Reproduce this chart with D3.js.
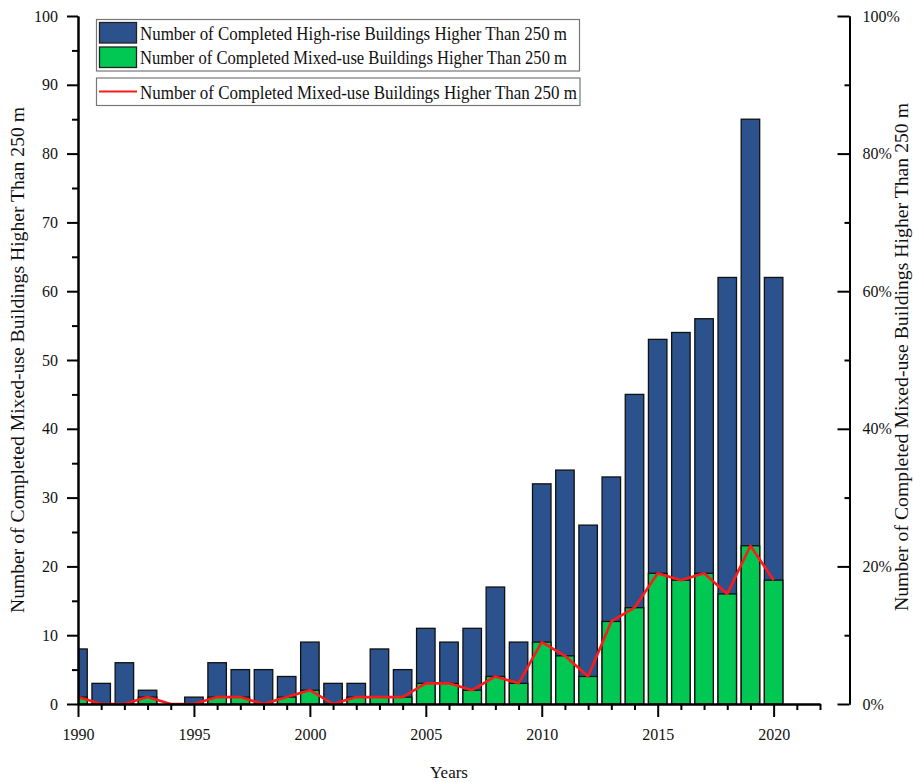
<!DOCTYPE html>
<html>
<head>
<meta charset="utf-8">
<script src="https://cdn.jsdelivr.net/npm/d3@7"></script>
<style>
  html, body { margin: 0; padding: 0; background: #ffffff; }
  svg text { font-family: "Liberation Serif", "Times New Roman", "DejaVu Serif", serif; }
</style>
</head>
<body>
<svg id="chart" width="913" height="783"></svg>
<script>
// ---- data ----
const years = [1990,1991,1992,1993,1994,1995,1996,1997,1998,1999,2000,2001,2002,2003,2004,2005,2006,2007,2008,2009,2010,2011,2012,2013,2014,2015,2016,2017,2018,2019,2020];
const highRise = [8,3,6,2,0,1,6,5,5,4,9,3,3,8,5,11,9,11,17,9,32,34,26,33,45,53,54,56,62,85,62];
const mixedUse = [1,0,0,1,0,0,1,1,0,1,2,0,1,1,1,3,3,2,4,3,9,7,4,12,14,19,18,19,16,23,18];
const leftTicks = [0,10,20,30,40,50,60,70,80,90,100];
const rightTicks = [0,20,40,60,80,100];
const xTickLabels = [1990,1995,2000,2005,2010,2015,2020];
const seriesNames = [
  "Number of Completed High-rise Buildings Higher Than 250 m",
  "Number of Completed Mixed-use Buildings Higher Than 250 m",
  "Number of Completed Mixed-use Buildings Higher Than 250 m"
];
const yTitle = "Number of Completed Mixed-use Buildings Higher Than 250 m";
const xTitle = "Years";

(function () {
const FONT = '"Liberation Serif", "Times New Roman", "DejaVu Serif", serif';
// ---- layout ----
const svg = d3.select("#chart");
const pLeft = 78, pRight = 820, pTop = 16, pBottom = 704, rightAxisX = 849.5;
const blue = "#2b528c", green = "#00c853", red = "#ff1a1a";
const textColor = "#111";

const x = d3.scaleLinear().domain([1990, 2022]).range([pLeft, pRight]);
const y = d3.scaleLinear().domain([0, 100]).range([pBottom, pTop]);
const yR = d3.scaleLinear().domain([0, 100]).range([pBottom, pTop]);
const barW = 18.5;

svg.append("defs").append("clipPath").attr("id", "plotClip")
  .append("rect").attr("x", pLeft).attr("y", 0).attr("width", pRight - pLeft).attr("height", pBottom + 1);

const data = years.map((yr, i) => ({ yr, total: highRise[i], mixed: mixedUse[i] }));

const bars = svg.append("g").attr("clip-path", "url(#plotClip)");
bars.selectAll("rect.hr").data(data.filter(d => d.total > 0)).join("rect")
  .attr("class", "hr")
  .attr("x", d => x(d.yr) - barW / 2)
  .attr("width", barW)
  .attr("y", d => y(d.total))
  .attr("height", d => y(0) - y(d.total))
  .attr("fill", blue).attr("stroke", "#111").attr("stroke-width", 1.3);
bars.selectAll("rect.mu").data(data.filter(d => d.mixed > 0)).join("rect")
  .attr("class", "mu")
  .attr("x", d => x(d.yr) - barW / 2)
  .attr("width", barW)
  .attr("y", d => y(d.mixed))
  .attr("height", d => y(0) - y(d.mixed))
  .attr("fill", green).attr("stroke", "#111").attr("stroke-width", 1.3);

// red line
svg.append("path").datum(data)
  .attr("fill", "none").attr("stroke", red).attr("stroke-width", 2.6)
  .attr("stroke-linejoin", "round")
  .attr("d", d3.line().x(d => x(d.yr)).y(d => y(d.mixed)));

// ---- axes ----
function styleAxis(g) {
  g.attr("font-family", FONT).attr("font-size", 16);
  g.select(".domain").attr("stroke", "#000").attr("stroke-width", 2);
  g.selectAll(".tick line").attr("stroke", "#000").attr("stroke-width", 2);
  g.selectAll(".tick text").attr("fill", textColor).attr("font-family", FONT).attr("font-size", 16);
}

// left axis
const gl = svg.append("g").attr("transform", `translate(${pLeft},0)`)
  .call(d3.axisLeft(y).tickValues(leftTicks).tickSize(11).tickPadding(9).tickSizeOuter(0));
styleAxis(gl);
const glm = svg.append("g").attr("transform", `translate(${pLeft},0)`)
  .call(d3.axisLeft(y).tickValues(d3.range(5, 100, 10)).tickSize(6).tickFormat("").tickSizeOuter(0));
styleAxis(glm);

// bottom axis
const gb = svg.append("g").attr("transform", `translate(0,${pBottom})`)
  .call(d3.axisBottom(x).tickValues(xTickLabels).tickFormat(d3.format("d")).tickSize(13).tickPadding(12).tickSizeOuter(0));
styleAxis(gb);
const gbm = svg.append("g").attr("transform", `translate(0,${pBottom})`)
  .call(d3.axisBottom(x).tickValues(d3.range(1991, 2023).filter(v => v % 5 !== 0)).tickSize(6).tickFormat("").tickSizeOuter(0));
styleAxis(gbm);

// right axis
const gr = svg.append("g").attr("transform", `translate(${rightAxisX},0)`)
  .call(d3.axisRight(yR).tickValues(rightTicks).tickSize(-12).tickPadding(13).tickFormat(d => d + "%").tickSizeOuter(0));
styleAxis(gr);
const grm = svg.append("g").attr("transform", `translate(${rightAxisX},0)`)
  .call(d3.axisRight(yR).tickValues(d3.range(10, 100, 20)).tickSize(-5).tickFormat("").tickSizeOuter(0));
styleAxis(grm);

// ---- titles ----
svg.append("text")
  .attr("transform", `translate(24,${(pTop + pBottom) / 2}) rotate(-90)`)
  .attr("text-anchor", "middle").attr("fill", textColor)
  .attr("font-family", FONT).attr("font-size", 19)
  .attr("textLength", 506).attr("lengthAdjust", "spacingAndGlyphs")
  .text(yTitle);
svg.append("text")
  .attr("transform", `translate(908,${(pTop + pBottom) / 2 - 3}) rotate(-90)`)
  .attr("text-anchor", "middle").attr("fill", textColor)
  .attr("font-family", FONT).attr("font-size", 19)
  .attr("textLength", 508).attr("lengthAdjust", "spacingAndGlyphs")
  .text(yTitle);
svg.append("text")
  .attr("x", 449).attr("y", 778)
  .attr("text-anchor", "middle").attr("fill", textColor)
  .attr("font-family", FONT).attr("font-size", 17)
  .text(xTitle);

// ---- legend ----
const lg = svg.append("g").attr("font-family", FONT);
lg.append("rect").attr("x", 96.5).attr("y", 19.5).attr("width", 483).attr("height", 51.5)
  .attr("fill", "#fff").attr("stroke", "#777").attr("stroke-width", 1.2);
lg.append("rect").attr("x", 96.5).attr("y", 78).attr("width", 483.5).attr("height", 27.5)
  .attr("fill", "#fff").attr("stroke", "#777").attr("stroke-width", 1.2);
const swatches = [blue, green];
swatches.forEach((c, i) => {
  lg.append("rect").attr("x", 99.5).attr("y", 22.5 + i * 24.5).attr("width", 37).attr("height", 20.5)
    .attr("fill", c).attr("stroke", "#222").attr("stroke-width", 1.3);
  lg.append("text").attr("x", 140).attr("y", 39.5 + i * 24.5)
    .attr("fill", textColor).attr("font-family", FONT).attr("font-size", 19)
    .attr("textLength", 427).attr("lengthAdjust", "spacingAndGlyphs")
    .text(seriesNames[i]);
});
lg.append("line").attr("x1", 99).attr("x2", 137).attr("y1", 91.5).attr("y2", 91.5)
  .attr("stroke", red).attr("stroke-width", 2.2);
lg.append("text").attr("x", 140).attr("y", 98.5)
  .attr("fill", textColor).attr("font-family", FONT).attr("font-size", 19)
  .attr("textLength", 437).attr("lengthAdjust", "spacingAndGlyphs")
  .text(seriesNames[2]);
})();
</script>
</body>
</html>
